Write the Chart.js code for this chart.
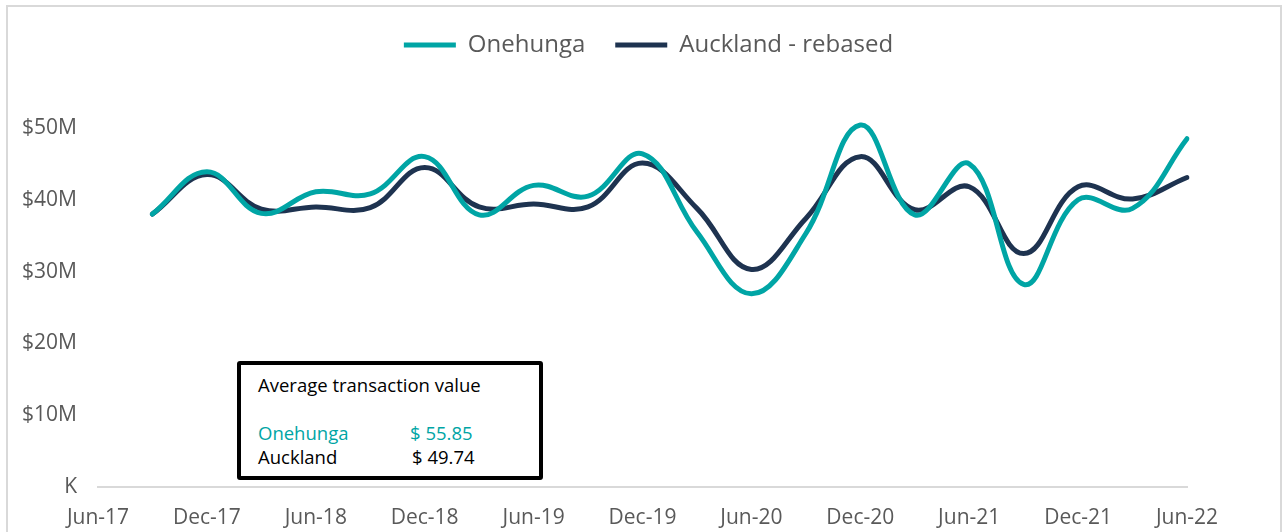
<!DOCTYPE html>
<html>
<head>
<meta charset="utf-8">
<script src="https://cdn.jsdelivr.net/npm/chart.js@4/dist/chart.umd.min.js"></script>
<style>
  body { margin: 0; background: #fff; }
  #wrap { position: relative; width: 1287px; height: 532px; }
  #frame { position: absolute; left: 6px; top: 5px; width: 1276px; height: 532px; border: 2px solid #d9d9d9; box-sizing: border-box; pointer-events: none; }
  #box { position: absolute; left: 237px; top: 361px; width: 306px; height: 119px; border: 4px solid #000; border-radius: 3px; box-sizing: border-box; background: #fff;
         font-family: "Open Sans", sans-serif; font-size: 18.5px; color: #000; }
  #box .t { position: absolute; left: 17px; top: 7px; }
  #box .r { position: absolute; left: 17px; }
  #box .v { position: absolute; left: 169px; }
</style>
</head>
<body>
<div id="wrap">
  <canvas id="bar-chart" width="1287" height="532"></canvas>
  <div id="frame"></div>
  <div id="box">
    <div class="t">Average transaction value</div>
    <div class="r" style="top:55px;color:#00a5a5">Onehunga</div>
    <div class="v" style="top:55px;color:#00a5a5">$ 55.85</div>
    <div class="r" style="top:79px">Auckland</div>
    <div class="v" style="top:79px;left:171px">$ 49.74</div>
  </div>
</div>
<script>
// quarters, first one (Jun-17) has no value
var quarters = ["Jun-17","Sep-17","Dec-17","Mar-18","Jun-18","Sep-18","Dec-18","Mar-19","Jun-19","Sep-19","Dec-19",
                "Mar-20","Jun-20","Sep-20","Dec-20","Mar-21","Jun-21","Sep-21","Dec-21","Mar-22","Jun-22"];
// values in $M
var onehunga = [null,38.0,43.9,38.1,41.1,40.8,46.0,37.9,42.0,40.5,46.4,35.5,26.9,35.3,50.4,37.9,45.0,28.2,40.0,38.8,48.5];
var auckland = [null,38.0,43.5,38.7,39.0,38.9,44.5,39.0,39.4,39.0,45.1,38.8,30.3,37.4,46.0,38.6,41.8,32.5,41.8,40.1,43.1];

Chart.defaults.font.family = "'Open Sans', sans-serif";
Chart.defaults.color = "#595959";

// extra room under the legend, and centre it on the whole picture
var legendGap = {
  id: 'legendGap',
  beforeInit: function(chart) {
    var fit = chart.legend.fit;
    chart.legend.fit = function() {
      fit.bind(chart.legend)();
      this.height += 25;
    };
  },
  afterLayout: function(chart) {
    chart.legend.left += 55;
    chart.legend.right += 55;
  }
};

new Chart(document.getElementById("bar-chart"), {
  type: 'line',
  data: {
    labels: quarters,
    datasets: [
      {
        label: "Onehunga",
        data: onehunga,
        borderColor: "#00a5a5",
        backgroundColor: "#00a5a5",
        borderWidth: 5,
        borderCapStyle: 'round',
        pointRadius: 0,
        tension: 0.4
      },
      {
        label: "Auckland - rebased",
        data: auckland,
        borderColor: "#1e3350",
        backgroundColor: "#1e3350",
        borderWidth: 5,
        borderCapStyle: 'round',
        pointRadius: 0,
        tension: 0.4
      }
    ]
  },
  options: {
    responsive: false,
    animation: false,
    layout: { padding: { top: 3, right: 100, bottom: 0, left: 0 } },
    plugins: {
      legend: {
        labels: {
          usePointStyle: true,
          pointStyle: 'line',
          pointStyleWidth: 52,
          font: { size: 24 },
          color: "#595959",
          padding: 30
        }
      },
      tooltip: { enabled: false }
    },
    scales: {
      x: {
        grid: { display: false },
        border: { color: "#d9d9d9", width: 2 },
        ticks: {
          autoSkip: false,
          maxRotation: 0,
          padding: 10,
          font: { size: 21 },
          callback: function(v, i) { return i % 2 === 0 ? quarters[i] : ''; }
        },
        afterFit: function(s) { s.height = 45; }
      },
      y: {
        min: 0,
        max: 55,
        grid: { display: false },
        border: { display: false },
        ticks: {
          stepSize: 10,
          padding: 13,
          font: { size: 21 },
          callback: function(v) {
            if (v % 10 !== 0) return '';
            return v === 0 ? 'K' : '$' + v + 'M';
          }
        },
        afterFit: function(s) { s.width = 98; }
      }
    }
  },
  plugins: [legendGap]
});
</script>
</body>
</html>
